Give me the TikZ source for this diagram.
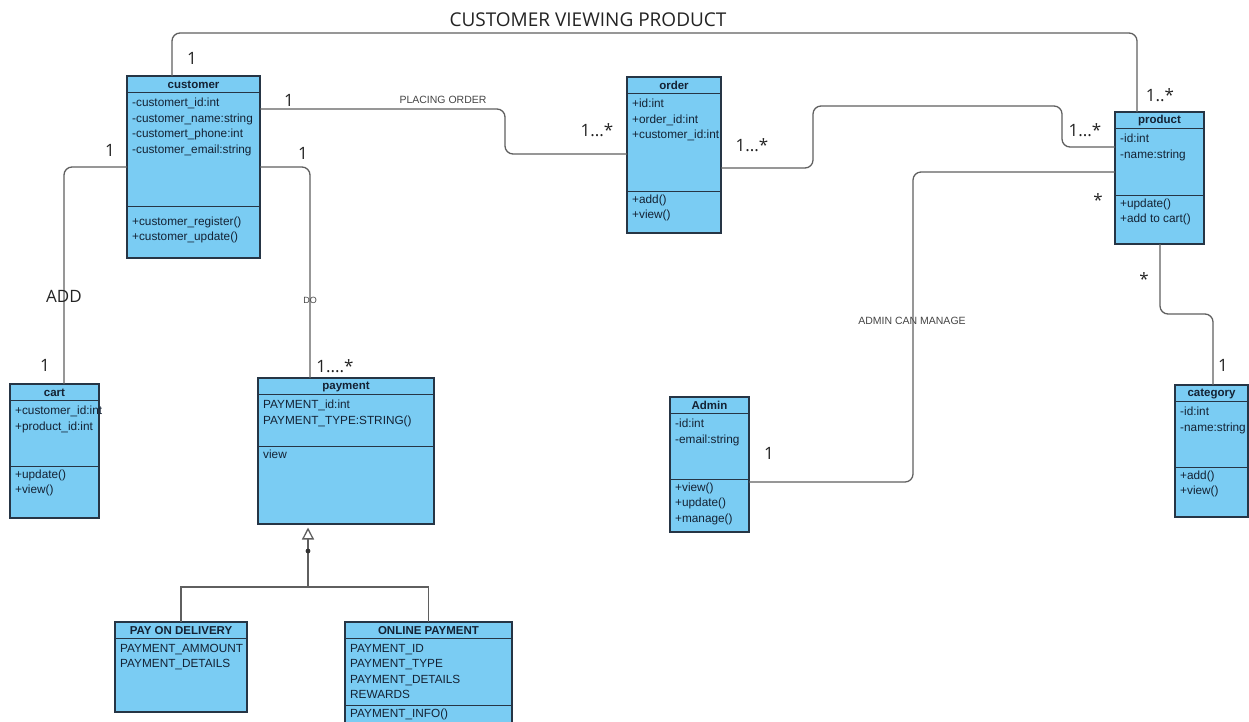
\documentclass[tikz,border=0pt]{standalone}
\usepackage{fontspec}
\setmainfont{Liberation Sans}
\newfontfamily\labelfont{Open Sans}
\usetikzlibrary{calc,arrows.meta}

\definecolor{boxfill}{RGB}{122,204,243}
\definecolor{boxline}{RGB}{38,53,69}
\definecolor{boxtext}{RGB}{20,34,52}
\definecolor{wire}{RGB}{95,95,95}
\definecolor{labtext}{RGB}{35,35,35}

\tikzset{
  classbox/.style={draw=boxline, fill=boxfill, line width=1.1pt, anchor=north west, inner sep=0pt, outer sep=0pt},
  ctitle/.style={font=\fontsize{11.5}{13}\selectfont\bfseries, text=boxtext, inner sep=0pt},
  ctext/.style={font=\fontsize{11.8}{15.5}\selectfont, text=boxtext, align=left, anchor=north west, inner sep=0pt},
  rule/.style={draw=boxline, line width=1pt},
  wireline/.style={draw=wire, line width=1.3pt, rounded corners=8pt},
  mult/.style={font=\labelfont\fontsize{17}{19}\selectfont, text=labtext, inner sep=0pt},
  assoc/.style={font=\fontsize{10.5}{12}\selectfont, text=labtext!85, inner sep=0pt},
}

% class box: name, x, y, width, height, title, attributes
\newcommand\umlclass[7]{%
  \node[classbox, minimum width=#4pt, minimum height=#5pt] (#1) at (#2,#3) {};
  \draw[rule] ($(#1.north west)+(0,16)$) -- ($(#1.north east)+(0,16)$);
  \node[ctitle] (#1-title) at ($(#1.north)+(0,8.5)$) {#6};
  \node[ctext] (#1-attrs) at ($(#1.north west)+(5,22)$) {#7};
}
% operations compartment: name, offset of the divider from the top, operations
\newcommand\umlops[3]{%
  \draw[rule] ($(#1.north west)+(0,#2)$) -- ($(#1.north east)+(0,#2)$);
  \node[ctext] (#1-ops) at ($(#1.north west)+(5,#2+3.5)$) {#3};
}

\begin{document}
\begin{tikzpicture}[x=1pt,y=-1pt]
\useasboundingbox (0,0) rectangle (1249,721);
\clip (0,0) rectangle (1249,721);

% classes
\umlclass{customer}{127}{76}{133}{182}{customer}
  {-customert\_id:int\\-customer\_name:string\\-customert\_phone:int\\-customer\_email:string}
\umlops{customer}{130}{\mbox{}\\+customer\_register()\\+customer\_update()}

\umlclass{order}{627}{77}{94}{156}{order}
  {+id:int\\+order\_id:int\\+customer\_id:int}
\umlops{order}{114}{+add()\\+view()}

\umlclass{product}{1115}{112}{89}{132}{product}
  {-id:int\\-name:string}
\umlops{product}{83}{+update()\\+add to cart()}

\umlclass{cart}{10}{384}{89}{134}{cart}
  {+customer\_id:int\\+product\_id:int}
\umlops{cart}{82}{+update()\\+view()}

\umlclass{payment}{258}{378}{176}{146}{payment}
  {PAYMENT\_id:int\\PAYMENT\_TYPE:STRING()}
\umlops{payment}{68}{view}

\umlclass{admin}{670}{397}{79}{135}{Admin}
  {-id:int\\-email:string}
\umlops{admin}{82}{+view()\\+update()\\+manage()}

\umlclass{category}{1175}{385}{73}{132}{category}
  {-id:int\\-name:string}
\umlops{category}{82}{+add()\\+view()}

\umlclass{podel}{115}{622}{132}{90}{PAY ON DELIVERY}
  {PAYMENT\_AMMOUNT\\PAYMENT\_DETAILS}

\umlclass{online}{345}{622}{167}{115}{ONLINE PAYMENT}
  {PAYMENT\_ID\\PAYMENT\_TYPE\\PAYMENT\_DETAILS\\REWARDS}
\umlops{online}{83}{PAYMENT\_INFO()}

% associations
\draw[wireline] ($(customer.north west)+(45,0)$) |- (650,33) -| ($(product.north west)+(22,0)$);
\draw[wireline] ($(customer.north east)+(0,33)$) -- (505,109) |- ($(order.north west)+(0,77)$);
\draw[wireline] ($(order.north east)+(0,91)$) -| (813,106) -- (1062,106) |- ($(product.north west)+(0,35)$);
\draw[wireline] ($(admin.north east)+(0,85)$) -| (913,172) -- ($(product.north west)+(0,60)$);
\draw[wireline] ($(product.south west)+(45,0)$) |- (1190,314) -| ($(category.north west)+(38,0)$);
\draw[wireline] ($(customer.north west)+(0,91)$) -| ($(cart.north west)+(54,0)$);
\draw[wireline] ($(customer.north east)+(0,91)$) -| ($(payment.north west)+(52,0)$);

% generalization of payment
\coordinate (gtip) at ($(payment.south west)+(50,3.5)$);
\coordinate (gjoin) at (308,587);
\draw[draw=wire, line width=1.3pt] (podel.north) |- (gjoin) -| (online.north);
\draw[draw=wire, line width=1.3pt, -{Triangle[open, fill=white, length=12pt, width=12pt]}] (gjoin) -- (gtip);
\fill[black!80] (308,551) circle (2.4pt);

% labels
\node[mult, font=\labelfont\fontsize{19}{21}\selectfont] (heading) at (588,20) {CUSTOMER VIEWING PRODUCT};
\node[mult] (m-cv1) at (192,58) {1};
\node[mult] (m-cv2) at (1160,95) {1..*};
\node[assoc] (l-place) at (443,100) {PLACING ORDER};
\node[mult] (m-po1) at (289,100) {1};
\node[mult] (m-po2) at (597,130) {1...*};
\node[mult] (m-op1) at (752,145) {1...*};
\node[mult] (m-op2) at (1085,130) {1...*};
\node[assoc] (l-admin) at (912,321) {ADMIN CAN MANAGE};
\node[mult] (m-ad1) at (769,453) {1};
\node[mult] (m-ad2) at (1098,200) {*};
\node[mult] (m-pc1) at (1144,279) {*};
\node[mult] (m-pc2) at (1223,365) {1};
\node[mult] (m-cc1) at (110,150) {1};
\node[mult] (l-add) at (64,296) {ADD};
\node[mult] (m-cc2) at (45,365) {1};
\node[mult] (m-cp1) at (303,153) {1};
\node[assoc, font=\fontsize{9}{10}\selectfont] (l-do) at (310,300) {DO};
\node[mult] (m-cp2) at (335,366) {1....*};
\end{tikzpicture}
\end{document}
